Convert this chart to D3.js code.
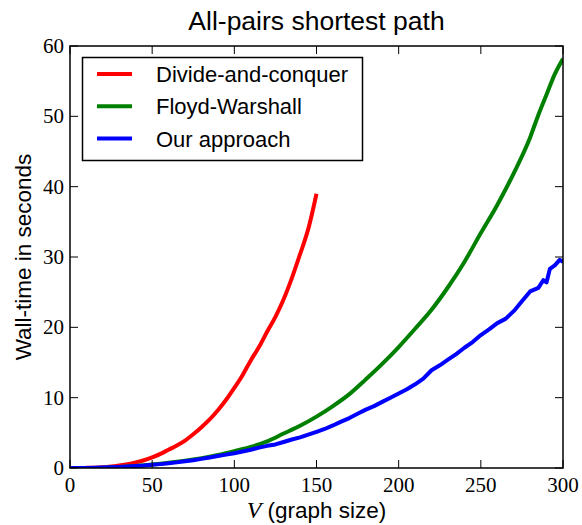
<!DOCTYPE html>
<html>
<head>
<meta charset="utf-8">
<script src="https://cdn.jsdelivr.net/npm/d3@7"></script>
<style>
  body { margin: 0; background: #fff; }
  .tick-label { font-family: "Liberation Serif", serif; font-size: 21px; fill: #000; }
  .sans { font-family: "Liberation Sans", Arial, sans-serif; fill: #000; }
  .series { fill: none; stroke-width: 4px; stroke-linejoin: round; stroke-linecap: butt; }
</style>
</head>
<body>
<svg id="chart" width="582" height="525"></svg>
<script>
  // graph sizes (V) and wall-time in seconds
  const dcSizes = [0,5,10,15,20,25,30,35,40,45,50,55,60,65,70,75,80,85,90,95,100,105,110,115,120,125,130,135,140,145,150];
  const dcTimes = [0,0,0.02,0.05,0.12,0.22,0.35,0.55,0.8,1.1,1.5,2.0,2.6,3.2,3.9,4.8,5.8,6.9,8.2,9.7,11.4,13.2,15.3,17.2,19.4,21.5,24.0,27.0,30.4,34.0,39.0];

  const fwSizes = [0,10,20,30,40,50,60,70,80,90,100,110,120,130,140,150,160,170,180,190,200,210,220,230,240,250,260,270,280,285,290,295,300];
  const fwTimes = [0,0,0.05,0.15,0.3,0.5,0.75,1.05,1.4,1.85,2.4,3.0,3.8,4.9,6.0,7.3,8.8,10.5,12.6,14.8,17.2,19.8,22.5,25.7,29.3,33.4,37.4,41.9,47.0,50.2,53.1,56.0,58.2];

  const oursSizes = [0,5,10,15,20,25,30,35,40,45,50,55,60,65,70,75,80,85,90,95,100,105,110,115,120,125,130,135,140,145,150,155,160,165,170,175,180,185,190,195,200,205,210,215,220,225,230,235,240,245,250,255,260,265,270,275,280,285,288,290,292,295,298,300];
  const oursTimes = [0,0,0.01,0.03,0.06,0.1,0.15,0.22,0.3,0.36,0.45,0.55,0.66,0.8,0.95,1.1,1.3,1.5,1.7,1.9,2.1,2.35,2.6,2.9,3.15,3.35,3.7,4.05,4.35,4.75,5.15,5.55,6.05,6.6,7.1,7.7,8.3,8.8,9.4,10.0,10.6,11.2,11.9,12.7,13.9,14.6,15.4,16.2,17.1,17.9,18.9,19.7,20.6,21.2,22.3,23.7,25.1,25.6,26.7,26.4,28.3,28.8,29.6,29.3];

  const seriesNames = ["Divide-and-conquer", "Floyd-Warshall", "Our approach"];
  const seriesColors = ["#ff0000", "#008000", "#0000ff"];
  const xTicks = [0, 50, 100, 150, 200, 250, 300];
  const yTicks = [0, 10, 20, 30, 40, 50, 60];

  const series = [
    {name: seriesNames[0], color: seriesColors[0], pts: d3.zip(dcSizes, dcTimes), curve: d3.curveMonotoneX},
    {name: seriesNames[1], color: seriesColors[1], pts: d3.zip(fwSizes, fwTimes), curve: d3.curveMonotoneX},
    {name: seriesNames[2], color: seriesColors[2], pts: d3.zip(oursSizes, oursTimes), curve: d3.curveLinear}
  ];

  const svg = d3.select("#chart");
  const margin = {left: 70, right: 19, top: 46, bottom: 57};
  const W = 582, H = 525;

  const x = d3.scaleLinear().domain([0, 300]).range([margin.left, W - margin.right]);
  const y = d3.scaleLinear().domain([0, 60]).range([H - margin.bottom, margin.top]);

  // clip so lines stay inside the axes
  svg.append("clipPath").attr("id", "clip")
    .append("rect")
    .attr("x", x(0)).attr("y", y(60))
    .attr("width", x(300) - x(0)).attr("height", y(0) - y(60));

  const plot = svg.append("g").attr("clip-path", "url(#clip)");
  series.forEach(s => {
    const line = d3.line().x(d => x(d[0])).y(d => y(d[1])).curve(s.curve);
    plot.append("path").attr("class", "series").attr("stroke", s.color).attr("d", line(s.pts));
  });

  // inward ticks on all four sides (matplotlib classic style)
  const tickLen = 8;
  const ticks = svg.append("g").attr("stroke", "#000").attr("stroke-width", 1);
  xTicks.forEach(t => {
    ticks.append("line").attr("x1", x(t)).attr("x2", x(t)).attr("y1", y(0)).attr("y2", y(0) - tickLen);
    ticks.append("line").attr("x1", x(t)).attr("x2", x(t)).attr("y1", y(60)).attr("y2", y(60) + tickLen);
  });
  yTicks.forEach(t => {
    ticks.append("line").attr("x1", x(0)).attr("x2", x(0) + tickLen).attr("y1", y(t)).attr("y2", y(t));
    ticks.append("line").attr("x1", x(300)).attr("x2", x(300) - tickLen).attr("y1", y(t)).attr("y2", y(t));
  });

  svg.append("rect")
    .attr("x", x(0)).attr("y", y(60))
    .attr("width", x(300) - x(0)).attr("height", y(0) - y(60))
    .attr("fill", "none").attr("stroke", "#000").attr("stroke-width", 1.5);

  svg.append("g").selectAll("text").data(xTicks).join("text")
    .attr("class", "tick-label")
    .attr("x", d => x(d)).attr("y", y(0) + 24)
    .attr("text-anchor", "middle")
    .text(d => d);

  svg.append("g").selectAll("text").data(yTicks).join("text")
    .attr("class", "tick-label")
    .attr("x", x(0) - 6).attr("y", d => y(d) + 7)
    .attr("text-anchor", "end")
    .text(d => d);

  // title and axis labels
  svg.append("text").attr("class", "sans")
    .attr("x", (x(0) + x(300)) / 2).attr("y", 30)
    .attr("text-anchor", "middle").attr("font-size", 26.5)
    .text("All-pairs shortest path");

  const xl = svg.append("text").attr("class", "sans")
    .attr("x", (x(0) + x(300)) / 2).attr("y", 518)
    .attr("text-anchor", "middle").attr("font-size", 22.5);
  xl.append("tspan").attr("font-family", "Liberation Serif, serif").attr("font-style", "italic").attr("font-size", 24).text("V");
  xl.append("tspan").text(" (graph size)");

  svg.append("text").attr("class", "sans")
    .attr("transform", `translate(31,${(y(0) + y(60)) / 2}) rotate(-90)`)
    .attr("text-anchor", "middle").attr("font-size", 22.5)
    .text("Wall-time in seconds");

  // legend
  const leg = svg.append("g");
  leg.append("rect")
    .attr("x", 82.5).attr("y", 57.5).attr("width", 280).attr("height", 103)
    .attr("fill", "#fff").attr("stroke", "#000").attr("stroke-width", 1.5);
  series.forEach((s, i) => {
    const cy = 74 + i * 32.3;
    leg.append("line").attr("x1", 97).attr("x2", 132).attr("y1", cy).attr("y2", cy)
      .attr("stroke", s.color).attr("stroke-width", 4);
    leg.append("text").attr("class", "sans")
      .attr("x", 156).attr("y", cy + 8).attr("font-size", 22)
      .text(s.name);
  });
</script>
</body>
</html>
